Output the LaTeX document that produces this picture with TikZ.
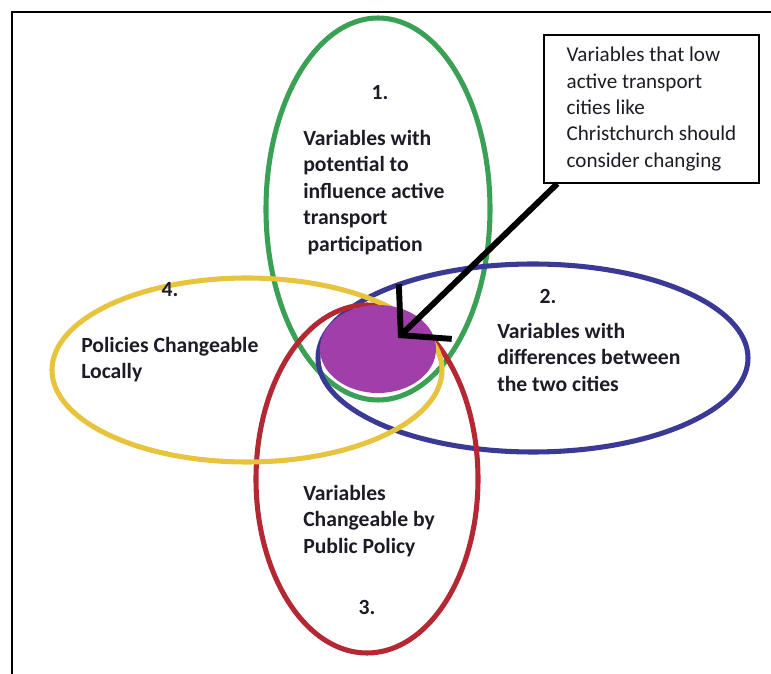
\documentclass[tikz,border=0pt]{standalone}
\usepackage{fontspec}
\setmainfont{Carlito}
\usetikzlibrary{arrows.meta}
\definecolor{ringgreen}{RGB}{58,160,86}
\definecolor{ringblue}{RGB}{58,58,150}
\definecolor{ringyellow}{RGB}{232,196,62}
\definecolor{ringred}{RGB}{180,40,52}
\definecolor{corepurple}{RGB}{160,62,170}
\definecolor{inktext}{RGB}{28,28,38}
\begin{document}
\begin{tikzpicture}[x=0.025cm,y=-0.025cm,
  ring/.style={line width=3.6pt},
  setlabel/.style={font=\bfseries\fontsize{15.4}{18.8}\selectfont,text=inktext,align=left,inner sep=0pt,anchor=north west},
  setnum/.style={font=\bfseries\fontsize{15.4}{18.8}\selectfont,text=inktext,inner sep=0pt},
  notebox/.style={draw,line width=1pt,font=\fontsize{15}{18.7}\selectfont,text=inktext,align=left,
    minimum width=5.375cm,minimum height=3.7cm},
  pointer/.style={line width=4.2pt,-{Straight Barb[length=0.85cm,width=1.9cm]}}]
\useasboundingbox (0,0) rectangle (771,674);
\draw[line width=1.9pt] (12,674)--(12,12)--(771,12);

\draw[ring,ringgreen] (378,209) ellipse [x radius=112, y radius=191];
\draw[ring,ringblue] (533,358) ellipse [x radius=215, y radius=94];
\draw[ring,ringred] (367,479) ellipse [x radius=111, y radius=174];
\draw[ring,ringyellow] (247,370) ellipse [x radius=195, y radius=92];
\fill[corepurple] (378,349) ellipse [x radius=58, y radius=44];

\node[setnum] (n1) at (380,93) {1.};
\node[setlabel] (influence) at (303,130) {Variables with\\potential to\\influence active\\transport\\\hspace{3pt}participation};

\node[setnum] (n2) at (548,296) {2.};
\node[setlabel] (differ) at (497,323) {Variables with\\differences between\\the two cities};

\node[setnum] (n4) at (170,290) {4.};
\node[setlabel] (local) at (81,337) {Policies Changeable\\Locally};

\node[setlabel] (policy) at (303,485) {Variables\\Changeable by\\Public Policy};
\node[setnum] (n3) at (367,607) {3.};

\node[notebox] (note) at (651.5,109) {Variables that low\\active transport\\cities like\\Christchurch should\\consider changing};

\coordinate (tip) at (398,338);
\draw[pointer] ([xshift=0.35cm]note.south west) -- (tip);

\end{tikzpicture}
\end{document}
